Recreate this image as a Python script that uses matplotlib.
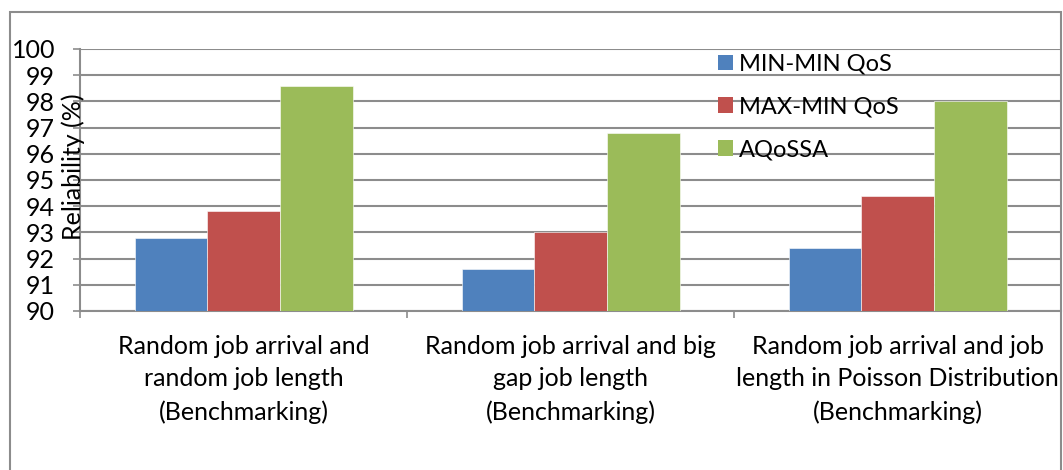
import matplotlib
matplotlib.use('Agg')
import matplotlib.pyplot as plt
import numpy as np
from matplotlib.patches import Patch, Rectangle

scenarios = [
    'Random job arrival and\nrandom job length\n(Benchmarking)',
    'Random job arrival and big\ngap job length\n(Benchmarking)',
    'Random job arrival and job\nlength in Poisson Distribution\n(Benchmarking)',
]
series_names = ['MIN-MIN QoS', 'MAX-MIN QoS', 'AQoSSA']
min_min_qos = [92.8, 91.6, 92.4]
max_min_qos = [93.8, 93.0, 94.4]
aqossa = [98.6, 96.8, 98.0]
y_ticks = [90, 91, 92, 93, 94, 95, 96, 97, 98, 99, 100]

colors = ['#4F81BD', '#C0504D', '#9BBB59']
grid_gray = '#8C8C8C'
fs = 18

plt.rcParams['font.family'] = ['Lato', 'DejaVu Sans']

W, H = 1063, 470
fig = plt.figure(figsize=(W / 100, H / 100), dpi=100)

# plot area in pixel terms
left, right, top, bottom = 80, 1061, 49, 311
ax = fig.add_axes([left / W, 1 - bottom / H, (right - left) / W, (bottom - top) / H])

x = np.arange(len(scenarios))
bar_w = 1 / 4.5
for i, (vals, name) in enumerate(zip([min_min_qos, max_min_qos, aqossa], series_names)):
    ax.bar(x + (i - 1) * bar_w, vals, width=bar_w, color=colors[i],
           edgecolor='white', linewidth=0.4, label=name, zorder=3)

ax.set_xlim(-0.5, len(scenarios) - 0.5)
ax.set_ylim(90, 100)
ax.set_yticks(y_ticks)
ax.yaxis.grid(True, color=grid_gray, linewidth=1.5, zorder=0)
ax.tick_params(axis='y', length=5, width=1.2, color=grid_gray, pad=13, labelsize=fs)

# category boundaries carry the tick marks, labels sit in the middle
ax.set_xticks(np.arange(-0.5, len(scenarios)))
ax.set_xticklabels([])
ax.tick_params(axis='x', which='major', length=5, width=1.2, color=grid_gray)
ax.set_xticks(x, minor=True)
ax.set_xticklabels(scenarios, minor=True, fontsize=fs, linespacing=1.5)
ax.tick_params(axis='x', which='minor', length=0, pad=17)

for side in ['top', 'right']:
    ax.spines[side].set_visible(False)
for side in ['left', 'bottom']:
    ax.spines[side].set_color(grid_gray)
    ax.spines[side].set_linewidth(1.5)

fig.text(73 / W, 1 - 167 / H, 'Reliability (%)', rotation=90, fontsize=fs,
         ha='center', va='center')

handles = [Patch(facecolor=c, edgecolor='none') for c in colors]
fig.legend(handles, series_names, loc='upper left', bbox_to_anchor=(706 / W, 1 - 42 / H),
           frameon=False, fontsize=17, handlelength=0.65, handleheight=0.65,
           handletextpad=0.25, labelspacing=0.92, borderpad=0)

# chart border
fig.add_artist(Rectangle((10 / W, -0.05), (1061 - 10) / W, 1 - 12 / H + 0.05,
                         transform=fig.transFigure, fill=False,
                         edgecolor=grid_gray, linewidth=1.5))

fig.savefig('out.png', dpi=100)
